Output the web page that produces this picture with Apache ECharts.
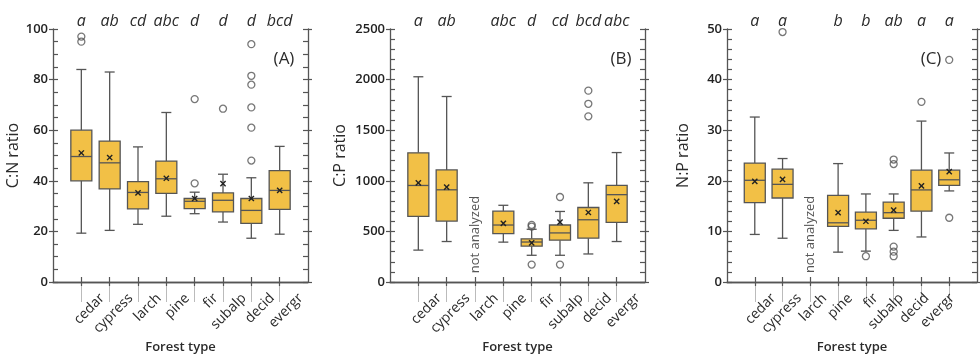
<!DOCTYPE html>
<html>
<head>
<meta charset="utf-8">
<script src="https://cdn.jsdelivr.net/npm/echarts@6/dist/echarts.min.js"></script>
<style>
  html, body { margin: 0; padding: 0; background: #fff; }
  #chart { width: 980px; height: 359px; }
</style>
</head>
<body>
<div id="chart"></div>
<script>
// Forest types (blank slots pad both ends of each category axis)
const categories = ['cedar', 'cypress', 'larch', 'pine', 'fir', 'subalp', 'decid', 'evergr'];

// Significance letters above each panel
const lettersCN = ['a', 'ab', 'cd', 'abc', 'd', 'd', 'd', 'bcd'];
const lettersCP = ['a', 'ab', '', 'abc', 'd', 'cd', 'bcd', 'abc'];
const lettersNP = ['a', 'a', '', 'b', 'b', 'ab', 'a', 'a'];

// Box summaries per forest type: [low whisker, Q1, median, Q3, high whisker, mean]
const boxCN = [
  [19.3, 40.0, 49.6, 60.0, 84.0, 51.0],
  [20.4, 36.8, 47.1, 55.7, 83.0, 49.2],
  [22.8, 28.9, 35.4, 39.7, 53.4, 35.2],
  [26.0, 35.0, 40.8, 47.8, 67.0, 41.0],
  [27.0, 29.0, 31.9, 33.0, 35.5, 33.0],
  [23.7, 27.7, 32.3, 35.2, 42.6, 38.9],
  [17.3, 23.2, 28.3, 33.0, 41.2, 33.0],
  [18.9, 28.7, 36.2, 44.0, 53.6, 36.2]
];
const boxCP = [
  [315, 648, 954, 1276, 2028, 980],
  [400, 602, 911, 1107, 1833, 937],
  null,
  [394, 478, 563, 700, 758, 579],
  [264, 354, 395, 427, 521, 387],
  [264, 413, 485, 563, 697, 592],
  [277, 433, 615, 736, 980, 687],
  [400, 589, 863, 954, 1279, 797]
];
const boxNP = [
  [9.4, 15.7, 20.1, 23.5, 32.6, 19.9],
  [8.65, 16.6, 19.3, 22.3, 24.4, 20.3],
  null,
  [5.9, 11.0, 11.7, 17.1, 23.4, 13.7],
  [6.1, 10.5, 12.2, 13.8, 17.4, 12.0],
  [10.2, 12.6, 13.7, 15.8, 17.4, 14.2],
  [8.9, 14.0, 18.2, 22.1, 31.8, 19.0],
  [18.0, 19.1, 20.2, 22.1, 25.5, 21.8]
];

// Outliers: [forest type, value]
const outCN = [
  ['cedar', 97], ['cedar', 95],
  ['fir', 72.3], ['fir', 39.0],
  ['subalp', 68.5],
  ['decid', 94], ['decid', 81.5], ['decid', 78], ['decid', 69], ['decid', 61], ['decid', 48]
];
const outCP = [
  ['fir', 565], ['fir', 548], ['fir', 172],
  ['subalp', 840], ['subalp', 172],
  ['decid', 1891], ['decid', 1761], ['decid', 1637]
];
const outNP = [
  ['cypress', 49.4],
  ['fir', 5.1],
  ['subalp', 24.2], ['subalp', 23.3], ['subalp', 7.0], ['subalp', 6.0], ['subalp', 5.1],
  ['decid', 35.6],
  ['evergr', 43.9], ['evergr', 12.7]
];

// Where the "not analyzed" note sits on the larch slot
const noteCP = 469;
const noteNP = 9.4;

const FONT = 'Open Sans';
const INK = '#2b2b2b';
const LINE = '#555';
const FILL = '#F2C046';

const padded = ['', ...categories, ''];

function renderBox(params, api) {
  const x = api.value(0);
  const lo = api.coord([x, api.value(1)]);
  const q1 = api.coord([x, api.value(2)]);
  const md = api.coord([x, api.value(3)]);
  const q3 = api.coord([x, api.value(4)]);
  const hi = api.coord([x, api.value(5)]);
  const mn = api.coord([x, api.value(6)]);
  const cx = lo[0];
  const half = 10.5, cap = 5, m = 2.6;
  const ls = { stroke: LINE, lineWidth: 1.3 };
  const ms = { stroke: '#222', lineWidth: 1.4 };
  return {
    type: 'group',
    children: [
      { type: 'line', shape: { x1: cx, y1: hi[1], x2: cx, y2: q3[1] }, style: ls },
      { type: 'line', shape: { x1: cx, y1: q1[1], x2: cx, y2: lo[1] }, style: ls },
      { type: 'line', shape: { x1: cx - cap, y1: hi[1], x2: cx + cap, y2: hi[1] }, style: ls },
      { type: 'line', shape: { x1: cx - cap, y1: lo[1], x2: cx + cap, y2: lo[1] }, style: ls },
      { type: 'rect', shape: { x: cx - half, y: q3[1], width: 2 * half, height: q1[1] - q3[1] },
        style: { fill: FILL, stroke: LINE, lineWidth: 1.3 } },
      { type: 'line', shape: { x1: cx - half, y1: md[1], x2: cx + half, y2: md[1] }, style: ls },
      { type: 'line', shape: { x1: cx - m, y1: mn[1] - m, x2: cx + m, y2: mn[1] + m }, style: ms },
      { type: 'line', shape: { x1: cx - m, y1: mn[1] + m, x2: cx + m, y2: mn[1] - m }, style: ms }
    ]
  };
}

const panels = [
  { left: 53, letters: lettersCN, box: boxCN, out: outCN, max: 100, interval: 20, minor: 4,
    name: 'C:N ratio', nameGap: 29, tag: '(A)', tagX: 279 },
  { left: 390, letters: lettersCP, box: boxCP, out: outCP, max: 2500, interval: 500, minor: 5,
    name: 'C:P ratio', nameGap: 42, tag: '(B)', tagX: 616, note: noteCP },
  { left: 727, letters: lettersNP, box: boxNP, out: outNP, max: 50, interval: 10, minor: 5,
    name: 'N:P ratio', nameGap: 36, tag: '(C)', tagX: 926, note: noteNP }
];

const TOP = 29, W = 255, H = 256, LABEL_DX = 21;
const skipEnds = (i) => i > 0 && i < padded.length - 1;

const grid = [], xAxis = [], yAxis = [], series = [], title = [];

panels.forEach((p) => {
  grid.push({ left: p.left, top: TOP, width: W, height: H });
  title.push({ text: p.tag, left: p.tagX, top: 46, textAlign: 'center',
    textStyle: { fontFamily: FONT, fontSize: 17, fontWeight: 'normal', color: INK } });
});
// companion grids, nudged right, that only carry the rotated forest-type labels
panels.forEach((p) => {
  grid.push({ left: p.left + LABEL_DX, top: TOP, width: W, height: H });
});

panels.forEach((p, k) => {
  const base = { type: 'category', data: padded, boundaryGap: false, gridIndex: k };
  // bottom axis line with short inward ticks and the axis title
  xAxis.push(Object.assign({}, base, {
    position: 'bottom',
    axisLine: { lineStyle: { color: LINE, width: 1.3 } },
    axisTick: { inside: true, length: 5, interval: skipEnds, lineStyle: { color: LINE, width: 1.2 } },
    axisLabel: { show: false },
    name: 'Forest type', nameLocation: 'middle', nameGap: 59,
    nameTextStyle: { fontFamily: FONT, fontSize: 13, fontWeight: 600, color: INK }
  }));
  // long pale outward guide ticks
  xAxis.push(Object.assign({}, base, {
    position: 'bottom',
    axisLine: { show: false },
    axisTick: { inside: false, length: 20, interval: skipEnds, lineStyle: { color: '#bbb', width: 1 } },
    axisLabel: { show: false }
  }));
  // top axis carrying the significance letters
  xAxis.push(Object.assign({}, base, {
    data: ['', ...p.letters, ''],
    position: 'top',
    axisLine: { lineStyle: { color: LINE, width: 1.3 } },
    axisTick: { inside: true, length: 4, interval: skipEnds, lineStyle: { color: LINE, width: 1.2 } },
    axisLabel: { interval: 0, margin: 0, fontFamily: FONT, fontSize: 16, fontStyle: 'italic', color: INK }
  }));
  // rotated forest-type labels
  xAxis.push({
    type: 'category', data: padded, boundaryGap: false, gridIndex: k + 3, position: 'bottom',
    axisLine: { show: false }, axisTick: { show: false },
    axisLabel: { interval: 0, rotate: 45, margin: 11, fontFamily: FONT, fontSize: 14, color: INK }
  });

  const vbase = { type: 'value', min: 0, max: p.max, interval: p.interval, gridIndex: k,
    splitLine: { show: false } };
  yAxis.push(Object.assign({}, vbase, {
    position: 'left',
    axisLine: { show: true, lineStyle: { color: LINE, width: 1.3 } },
    axisTick: { show: true, inside: true, length: 5, lineStyle: { color: LINE, width: 1.2 } },
    minorTick: { show: true, splitNumber: p.minor, length: 5, lineStyle: { color: LINE, width: 1.2 } },
    axisLabel: { margin: 5, fontFamily: FONT, fontSize: 13, fontWeight: 600, color: '#222',
      formatter: (v) => String(v) },
    name: p.name, nameLocation: 'middle', nameGap: p.nameGap,
    nameTextStyle: { fontFamily: FONT, fontSize: 16, color: INK }
  }));
  yAxis.push(Object.assign({}, vbase, {
    position: 'left',
    axisLine: { show: false },
    axisTick: { show: true, inside: false, length: 4, lineStyle: { color: LINE, width: 1.2 } },
    axisLabel: { show: false }
  }));
  yAxis.push(Object.assign({}, vbase, {
    position: 'right',
    axisLine: { show: true, lineStyle: { color: LINE, width: 1.3 } },
    axisTick: { show: true, inside: true, length: 5, lineStyle: { color: LINE, width: 1.2 } },
    minorTick: { show: true, splitNumber: p.minor, length: 5, lineStyle: { color: LINE, width: 1.2 } },
    axisLabel: { show: false }
  }));
  yAxis.push(Object.assign({}, vbase, {
    position: 'right',
    axisLine: { show: false },
    axisTick: { show: true, inside: false, length: 4, lineStyle: { color: LINE, width: 1.2 } },
    axisLabel: { show: false }
  }));

  const xi = k * 4, yi = k * 4;
  const boxData = [];
  p.box.forEach((b, i) => { if (b) boxData.push([i + 1, ...b]); });
  series.push({
    type: 'custom', xAxisIndex: xi, yAxisIndex: yi, renderItem: renderBox,
    data: boxData, encode: { x: 0, y: [1, 2, 3, 4, 5, 6] }, silent: true, z: 3
  });
  series.push({
    type: 'scatter', xAxisIndex: xi, yAxisIndex: yi, symbol: 'circle', symbolSize: 7,
    itemStyle: { color: 'rgba(0,0,0,0)', borderColor: LINE, borderWidth: 1.3 },
    data: p.out.map(o => [categories.indexOf(o[0]) + 1, o[1]]), silent: true, z: 4
  });
  if (p.note !== undefined) {
    series.push({
      type: 'scatter', xAxisIndex: xi, yAxisIndex: yi, symbol: 'circle', symbolSize: 1,
      itemStyle: { color: 'rgba(0,0,0,0)' },
      data: [[categories.indexOf('larch') + 1, p.note]], silent: true, z: 5,
      label: { show: true, position: 'inside', rotate: 90, formatter: 'not analyzed',
        fontFamily: FONT, fontSize: 13, color: INK }
    });
  }
});

// hidden value axes so the label-only grids form complete cartesians
panels.forEach((p, k) => {
  yAxis.push({ type: 'value', gridIndex: k + 3, min: 0, max: 1, show: false });
});

const chart = echarts.init(document.getElementById('chart'), null, { renderer: 'canvas' });
chart.setOption({
  animation: false,
  backgroundColor: '#fff',
  title, grid, xAxis, yAxis, series
});
</script>
</body>
</html>
